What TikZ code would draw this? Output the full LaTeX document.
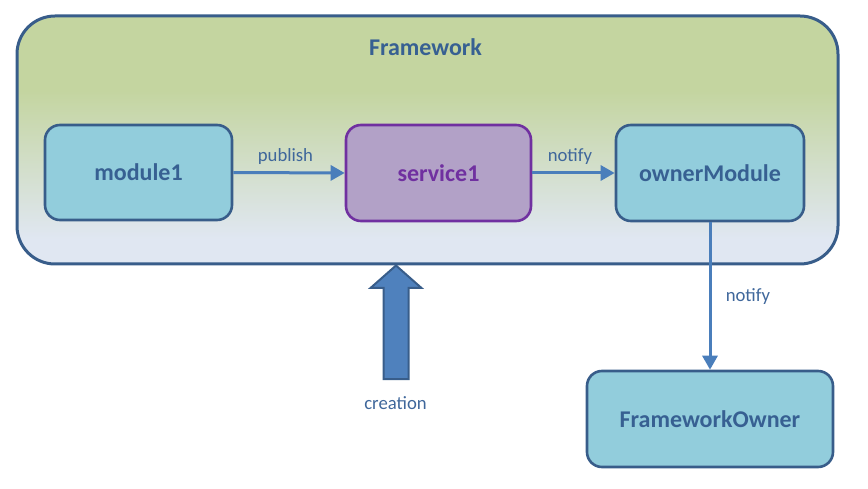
\documentclass[tikz,border=0pt]{standalone}
\usepackage{fontspec}
\setmainfont{Carlito}
\usetikzlibrary{arrows.meta}
\definecolor{fwtop}{HTML}{C4D5A0}
\definecolor{fwbot}{HTML}{E0E7F2}
\definecolor{boxfill}{HTML}{92CDDC}
\definecolor{boxline}{HTML}{385D8A}
\definecolor{boxtext}{HTML}{376092}
\definecolor{svcfill}{HTML}{B2A1C7}
\definecolor{svcline}{HTML}{7030A0}
\definecolor{conn}{HTML}{4A7EBB}
\definecolor{lbltext}{HTML}{3F679B}
\definecolor{bigfill}{HTML}{4F81BD}
\pgfdeclareverticalshading{fwshade}{100bp}{color(0bp)=(fwbot); color(30bp)=(fwbot); color(60bp)=(fwtop); color(100bp)=(fwtop)}
\begin{document}
\begin{tikzpicture}[x=1pt,y=-1pt,
  frame/.style={draw=boxline, line width=3pt, rounded corners=38pt, shading=fwshade, minimum width=821pt, minimum height=248pt, inner sep=0pt},
  modbox/.style={draw=boxline, line width=2.6pt, fill=boxfill, rounded corners=15pt, text=boxtext, font=\fontsize{24}{28}\selectfont\bfseries, inner sep=0pt},
  svcbox/.style={modbox, draw=svcline, fill=svcfill, text=svcline},
  conn/.style={draw=conn, line width=3pt, -{Triangle[length=14pt,width=15pt]}},
  lbl/.style={text=lbltext, font=\fontsize{18.7}{22}\selectfont, inner sep=0pt},
  title/.style={text=boxtext, font=\fontsize{24}{28}\selectfont\bfseries, inner sep=0pt}
]
\useasboundingbox (0,0) rectangle (868,489);
\node[frame] (fw) at (427.5,140) {};
\node[title] (fwt) at (425.5,47) {Framework};
\node[modbox, minimum width=187pt, minimum height=95pt] (m1) at (138.5,172.5) {module1};
\node[svcbox, minimum width=185pt, minimum height=96pt] (s1) at (438.5,173) {service1};
\node[modbox, minimum width=188pt, minimum height=96pt] (om) at (710,173) {ownerModule};
\node[modbox, minimum width=246pt, minimum height=96pt] (fo) at (710,419) {FrameworkOwner};
\draw[conn] (m1.east) -- (s1.west);
\draw[conn] (s1.east) -- (om.west);
\draw[conn] (om.south) -- (fo.north);
\node[lbl] (lp) at (285.5,157) {publish};
\node[lbl] (ln1) at (570,157) {notify};
\node[lbl] (ln2) at (748,297) {notify};
\node[lbl] (lc) at (395.5,403) {creation};
\coordinate (tip) at (396,265.5);
\draw[draw=boxline, fill=bigfill, line width=2pt, line join=miter]
  (tip) -- (421.5,288) -- (408.5,288) -- (408.5,379) -- (383.5,379) -- (383.5,288) -- (370.5,288) -- cycle;
\end{tikzpicture}
\end{document}
